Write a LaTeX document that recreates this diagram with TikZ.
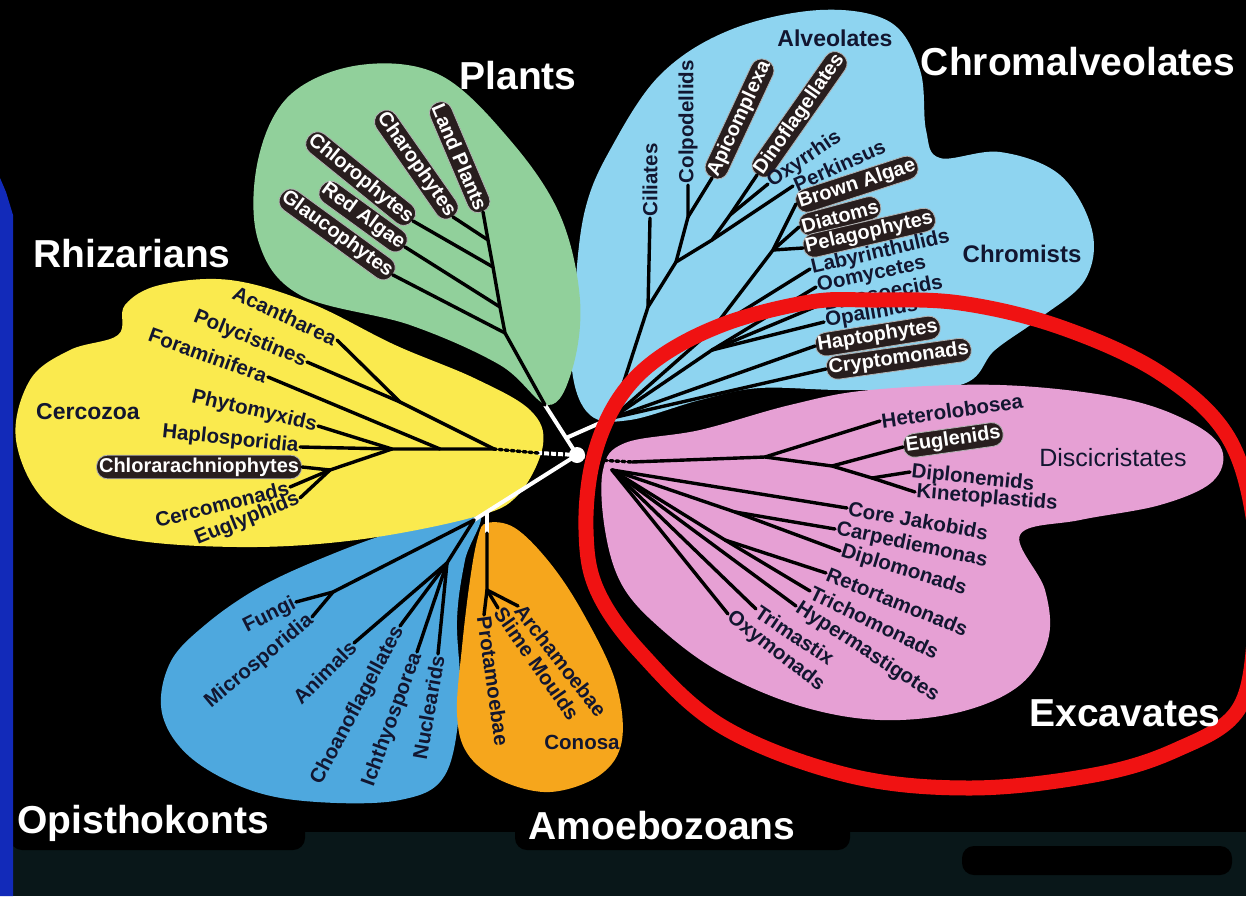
\documentclass[tikz,border=0pt]{standalone}
\usepackage{fontspec}
\setmainfont{Liberation Sans}
\usetikzlibrary{positioning}

\definecolor{plantgreen}{RGB}{145,208,155}
\definecolor{chromblue}{RGB}{142,212,240}
\definecolor{rhizyellow}{RGB}{250,234,78}
\definecolor{opisblue}{RGB}{78,168,222}
\definecolor{amoeborange}{RGB}{246,166,28}
\definecolor{excavpink}{RGB}{230,160,212}
\definecolor{ringred}{RGB}{240,18,18}
\definecolor{labink}{RGB}{18,22,48}
\definecolor{pillfill}{RGB}{40,30,30}
\definecolor{slideblue}{RGB}{18,42,185}
\definecolor{floorteal}{RGB}{9,23,25}

\tikzset{
  lab/.style={font=\fontsize{20.5}{20.5}\selectfont\bfseries, text=labink, inner sep=1.5pt},
  pill/.style={font=\fontsize{20}{20}\selectfont\bfseries, text=white, fill=pillfill,
    draw=gray!60, line width=0.8pt, rounded corners=11pt, inner sep=2.5pt, minimum height=23pt},
  grp/.style={font=\fontsize{39}{39}\selectfont\bfseries, text=white},
  sub/.style={font=\fontsize{23}{23}\selectfont\bfseries, text=labink},
  branch/.style={line width=3.4pt, black, line cap=round},
  stem/.style={line width=4pt, white},
}

\begin{document}
\begin{tikzpicture}[x=1pt,y=-1pt]
\useasboundingbox (0,0) rectangle (1246,896);
% backdrop
\fill[black] (0,0) rectangle (1246,896);
\fill[floorteal] (13,832) rectangle (1246,896);
\fill[black, rounded corners=12pt] (10,798) rectangle (305,850);
\fill[black, rounded corners=12pt] (515,804) rectangle (850,850);
\fill[black, rounded corners=12pt] (962,846) rectangle (1232,875);
\fill[slideblue] (0,178) -- (6,192) -- (13,215) -- (13,896) -- (0,896) -- cycle;

% groups
\fill[chromblue] plot[smooth cycle, tension=0.6] coordinates {(590,415) (572,370) (575,290) (585,210)
  (610,150) (660,75) (730,30) (820,10) (890,22) (920,70) (926,130) (940,158) (1000,152) (1060,175)
  (1092,230) (1085,280) (1040,318) (995,350) (960,385) (850,390) (760,388) (700,400) (630,420)};
\fill[plantgreen] plot[smooth cycle, tension=0.6] coordinates {(548,405) (500,365) (410,325) (300,295)
  (258,240) (258,160) (290,95) (360,65) (440,75) (510,140) (560,215) (580,300) (572,370)};
\fill[excavpink] plot[smooth cycle, tension=0.6] coordinates {(603,470) (625,443) (700,430) (790,405)
  (870,390) (1000,385) (1120,398) (1190,422) (1222,450) (1212,482) (1160,505) (1080,520) (1020,535)
  (1045,590) (1048,640) (1020,685) (960,712) (880,720) (800,706) (720,672) (660,628) (622,585) (605,530)};
\fill[opisblue] plot[smooth cycle, tension=0.6] coordinates {(478,512) (465,560) (457,620) (460,700)
  (445,775) (400,800) (317,802) (250,790) (190,757) (162,713) (170,663) (205,625) (260,587) (330,555) (400,530)};
\fill[amoeborange] plot[smooth cycle, tension=0.6] coordinates {(487,523) (515,528) (550,563) (583,613)
  (615,680) (622,740) (600,775) (550,792) (500,780) (467,753) (457,713) (462,647) (470,580) (478,537)};
\fill[rhizyellow] plot[smooth cycle, tension=0.6] coordinates {(16,440) (30,380) (70,350) (118,335)
  (125,305) (160,285) (230,280) (310,303) (395,345) (474,378) (530,410) (543,445) (518,495) (474,517)
  (356,540) (237,547) (118,537) (47,503)};

% root and white stems
\coordinate (root) at (577,455);
\coordinate (wg) at (545,405);
\coordinate (wsplit) at (566,438);
\coordinate (wb) at (600,423);
\coordinate (wr) at (538,453);
\coordinate (wo) at (474,520);
\coordinate (wa) at (487,512);
\coordinate (wa2) at (487,533);
\coordinate (pd) at (598,460);
\draw[stem] (root) -- (wg);
\draw[stem] (wsplit) -- (wb);
\draw[stem] (root) -- (wo);
\draw[stem] (wa) -- (wa2);
\draw[stem, dash pattern=on 5pt off 2pt] (root) -- (wr);
\draw[stem, dash pattern=on 3pt off 2pt] (root) -- (pd);
\fill[white] (root) circle (8);

% junctions
\coordinate (Y0) at (494,449);
\coordinate (Ya) at (400,402);
\coordinate (Yf) at (440,449);
\coordinate (Yb) at (392,449);
\coordinate (Yc) at (330,470);
\coordinate (G1) at (505,333);
\coordinate (G2) at (500,307);
\coordinate (G3) at (493,267);
\coordinate (G4) at (488,240);
\coordinate (CH) at (612,418);
\coordinate (T1) at (648,307);
\coordinate (T2) at (676,262);
\coordinate (C1) at (688,217);
\coordinate (D1) at (730,215);
\coordinate (D2) at (712,240);
\coordinate (S0) at (712,330);
\coordinate (S1) at (773,250);
\coordinate (S2) at (712,350);
\coordinate (P0) at (632,462);
\coordinate (P1) at (765,457);
\coordinate (P2) at (832,466);
\coordinate (P3) at (872,478);
\coordinate (E0) at (612,470);
\coordinate (Ea) at (735,512);
\coordinate (Eb) at (725,540);
\coordinate (O1) at (333,592);
\coordinate (O2) at (447,563);
\coordinate (A1) at (487,590);

% Rhizarians
\node[lab, rotate=-25, anchor=east] (acan) at (337,340) {Acantharea};
\node[lab, rotate=-22, anchor=east] (poly) at (307,362) {Polycistines};
\node[lab, rotate=-20, anchor=east] (fora) at (268,377) {Foraminifera};
\node[lab, rotate=-13, anchor=east] (phyt) at (318,426) {Phytomyxids};
\node[lab, rotate=-6, anchor=east] (hapl) at (300,447) {Haplosporidia};
\node[pill, anchor=east] (chlo) at (302,467) {Chlorarachniophytes};
\node[lab, rotate=14, anchor=east] (cerc) at (290,487) {Cercomonads};
\node[lab, rotate=22, anchor=east] (eugl) at (300,498) {Euglyphids};
\node[sub] (cercozoa) at (88,412) {Cercozoa};
% Plants
\node[pill, rotate=-67, anchor=east] (land) at (483,212) {Land Plants};
\node[pill, rotate=-55, anchor=east] (char) at (453,217) {Charophytes};
\node[pill, rotate=-39, anchor=east] (chlr) at (413,221) {Chlorophytes};
\node[pill, rotate=-36, anchor=east] (reda) at (405,247) {Red Algae};
\node[pill, rotate=-36, anchor=east] (glau) at (393,275) {Glaucophytes};
% Alveolates
\node[lab, rotate=90, anchor=west] (cili) at (650,218) {Ciliates};
\node[lab, rotate=90, anchor=west] (colp) at (688,185) {Colpodellids};
\node[pill, rotate=65, anchor=west] (apic) at (712,178) {Apicomplexa};
\node[pill, rotate=55, anchor=west] (dino) at (757,175) {Dinoflagellates};
\node[lab, rotate=34, anchor=west] (oxyr) at (768,184) {Oxyrrhis};
\node[lab, rotate=24, anchor=west] (perk) at (793,186) {Perkinsus};
\node[sub] (alveolates) at (835,38) {Alveolates};
% Chromists
\node[pill, rotate=18, anchor=west] (brow) at (796,204) {Brown Algae};
\node[pill, rotate=15, anchor=west] (diat) at (799,227) {Diatoms};
\node[pill, rotate=13, anchor=west] (pela) at (803,248) {Pelagophytes};
\node[lab, rotate=13, anchor=west] (laby) at (810,269) {Labyrinthulids};
\node[lab, rotate=12, anchor=west] (oomy) at (816,287) {Oomycetes};
\node[lab, rotate=11, anchor=west] (bico) at (822,304) {Bicosoecids};
\node[lab, rotate=10, anchor=west] (opal) at (824,322) {Opalinids};
\node[pill, rotate=9, anchor=west] (hapt) at (815,346) {Haptophytes};
\node[pill, rotate=8, anchor=west] (cryp) at (826,369) {Cryptomonads};
\node[sub, font=\fontsize{24}{24}\selectfont\bfseries] (chromists) at (1022,254) {Chromists};
% Excavates
\node[lab, rotate=8, anchor=west] (hete) at (880,421) {Heterolobosea};
\node[pill, rotate=8, anchor=west] (eugn) at (903,447) {Euglenids};
\node[lab, rotate=-6, anchor=west] (dipn) at (910,472) {Diplonemids};
\node[lab, rotate=-5, anchor=west] (kine) at (915,492) {Kinetoplastids};
\node[lab, rotate=-10, anchor=west] (jako) at (847,508) {Core Jakobids};
\node[lab, rotate=-12, anchor=west] (carp) at (835,529) {Carpediemonas};
\node[lab, rotate=-17, anchor=west] (dipm) at (840,551) {Diplomonads};
\node[lab, rotate=-22, anchor=west] (reto) at (826,573) {Retortamonads};
\node[lab, rotate=-26, anchor=west] (tric) at (810,591) {Trichomonads};
\node[lab, rotate=-33, anchor=west] (hype) at (796,606) {Hypermastigotes};
\node[lab, rotate=-34, anchor=west] (trim) at (756,609) {Trimastix};
\node[lab, rotate=-38, anchor=west] (oxym) at (728,614) {Oxymonads};
\node[sub, font=\fontsize{25}{25}\selectfont] (disci) at (1113,458) {Discicristates};
% Opisthokonts
\node[lab, rotate=27, anchor=east] (fung) at (296,602) {Fungi};
\node[lab, rotate=40, anchor=east] (micr) at (312,617) {Microsporidia};
\node[lab, rotate=45, anchor=east] (anim) at (354,643) {Animals};
\node[lab, rotate=62, anchor=east] (choa) at (400,626) {Choanoflagellates};
\node[lab, rotate=70, anchor=east] (icht) at (417,652) {Ichthyosporea};
\node[lab, rotate=80, anchor=east] (nucl) at (438,654) {Nuclearids};
% Amoebozoans
\node[lab, rotate=-82, anchor=west] (prot) at (484,615) {Protamoebae};
\node[lab, rotate=-55, anchor=west] (slim) at (498,608) {Slime Moulds};
\node[lab, rotate=-52, anchor=west] (arch) at (518,606) {Archamoebae};
\node[lab] (conosa) at (582,742) {Conosa};

% branches
\draw[branch, dash pattern=on 3pt off 3pt] (wr) -- (Y0);
\draw[branch] (Y0) -- (Ya) -- (acan.east);
\draw[branch] (Ya) -- (poly.east);
\draw[branch] (Yf) -- (fora.east);
\draw[branch] (Y0) -- (Yb) -- (phyt.east);
\draw[branch] (Yb) -- (hapl.east);
\draw[branch] (Yb) -- (Yc) -- (chlo.east);
\draw[branch] (Yc) -- (cerc.east);
\draw[branch] (Yc) -- (eugl.east);
\draw[branch] (wg) -- (G1) -- (G2) -- (G3) -- (G4) -- (land.east);
\draw[branch] (G1) -- (glau.east);
\draw[branch] (G2) -- (reda.east);
\draw[branch] (G3) -- (chlr.east);
\draw[branch] (G4) -- (char.east);
\draw[branch] (wb) -- (CH) -- (T1) -- (T2) -- (D2) -- (D1) -- (dino.west);
\draw[branch] (T1) -- (cili.west);
\draw[branch] (T2) -- (C1) -- (colp.west);
\draw[branch] (C1) -- (apic.west);
\draw[branch] (D1) -- (oxyr.west);
\draw[branch] (D2) -- (perk.west);
\draw[branch] (CH) -- (S0) -- (S1) -- (brow.west);
\draw[branch] (S1) -- (diat.west);
\draw[branch] (S1) -- (pela.west);
\draw[branch] (S0) -- (laby.west);
\draw[branch] (CH) -- (S2) -- (oomy.west);
\draw[branch] (S2) -- (bico.west);
\draw[branch] (S2) -- (opal.west);
\draw[branch] (CH) -- (hapt.west);
\draw[branch] (CH) -- (cryp.west);
\draw[branch, dash pattern=on 3pt off 3pt] (pd) -- (P0);
\draw[branch] (P0) -- (P1) -- (P2) -- (P3) -- (dipn.west);
\draw[branch] (P3) -- (kine.west);
\draw[branch] (P2) -- (eugn.west);
\draw[branch] (P1) -- (hete.west);
\draw[branch] (E0) -- (jako.west);
\draw[branch] (E0) -- (Ea) -- (carp.west);
\draw[branch] (Ea) -- (dipm.west);
\draw[branch] (E0) -- (Eb) -- (reto.west);
\draw[branch] (Eb) -- (tric.west);
\draw[branch] (E0) -- (hype.west);
\draw[branch] (E0) -- (trim.west);
\draw[branch] (E0) -- (oxym.west);
\draw[branch] (wo) -- (O1) -- (fung.east);
\draw[branch] (O1) -- (micr.east);
\draw[branch] (wo) -- (O2) -- (anim.east);
\draw[branch] (O2) -- (choa.east);
\draw[branch] (O2) -- (icht.east);
\draw[branch] (O2) -- (nucl.east);
\draw[branch] (wa2) -- (A1) -- (prot.west);
\draw[branch] (A1) -- (slim.west);
\draw[branch] (A1) -- (arch.west);

% excavate ring
\draw[ringred, line width=15pt] plot[smooth cycle, tension=0.6] coordinates {(870,300) (960,303)
  (1060,327) (1160,373) (1228,437) (1255,530) (1255,630) (1238,710) (1176,750) (1094,775) (970,788)
  (847,775) (723,727) (641,653) (597,590) (586,530) (593,460) (618,400) (660,357) (727,323) (810,302)};

% group names
\node[grp] (plants) at (518,76) {Plants};
\node[grp] (chromalv) at (1078,62) {Chromalveolates};
\node[grp] (rhiz) at (132,254) {Rhizarians};
\node[grp] (opis) at (143,823) {Opisthokonts};
\node[grp] (amoeb) at (662,826) {Amoebozoans};
\node[grp] (excav) at (1125,713) {Excavates};
\end{tikzpicture}
\end{document}
